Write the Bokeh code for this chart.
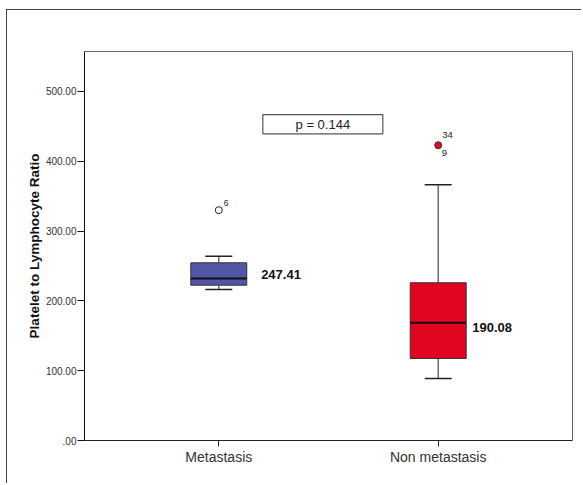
from bokeh.plotting import figure
from bokeh.models import FixedTicker, ColumnDataSource
from bokeh.embed import file_html
from bokeh.resources import INLINE
from bokeh.core.properties import value

# ---- data ----
groups = ["Metastasis", "Non metastasis"]
xpos = [0, 1]
q1 = [222.5, 117.5]
median = [232.0, 168.6]
q3 = [254.6, 226.0]
lower = [216.3, 88.8]
upper = [264.0, 366.3]
outlier_y = [330.0, 423.0]
mean_labels = ["247.41", "190.08"]
colors = ["#5355A5", "#E2051F"]
y_ticks = [0, 100, 200, 300, 400, 500]
y_tick_labels = [".00", "100.00", "200.00", "300.00", "400.00", "500.00"]
p_text = "p = 0.144"

# ---- layout helpers ----
BOX_W = 0.255
CAP_W = 0.123
FONT = "Liberation Sans"

p = figure(width=575, height=474, output_backend="svg", toolbar_location=None,
           x_range=(-0.612, 1.612), y_range=(0, 557.3),
           min_border_left=77, min_border_right=10, min_border_top=41, min_border_bottom=44,
           background_fill_color="white", border_fill_color="white")
p.styles = {"border-left": "1px solid #444", "border-top": "1px solid #444",
            "margin-left": "6px", "margin-top": "9px"}
p.grid.visible = False
p.outline_line_color = "#666"
p.outline_line_width = 1

src = ColumnDataSource(dict(
    x=xpos, q1=q1, q3=q3, med=median, lo=lower, up=upper, color=colors,
    xl=[x - BOX_W / 2 for x in xpos], xr=[x + BOX_W / 2 for x in xpos],
    cl=[x - CAP_W / 2 for x in xpos], cr=[x + CAP_W / 2 for x in xpos],
))

# whiskers
p.segment(x0="x", y0="q3", x1="x", y1="up", source=src, line_color="#555", line_width=1.3)
p.segment(x0="x", y0="lo", x1="x", y1="q1", source=src, line_color="#555", line_width=1.3)
p.segment(x0="cl", y0="up", x1="cr", y1="up", source=src, line_color="#222", line_width=1.5)
p.segment(x0="cl", y0="lo", x1="cr", y1="lo", source=src, line_color="#222", line_width=1.5)
# boxes
p.vbar(x="x", width=BOX_W, bottom="q1", top="q3", source=src,
       fill_color="color", line_color="#333", line_width=1)
p.segment(x0="xl", y0="med", x1="xr", y1="med", source=src, line_color="#111", line_width=2)

# outliers
p.scatter(x=[xpos[0]], y=[outlier_y[0]], size=7, fill_color="white", line_color="#222", line_width=1)
p.scatter(x=[xpos[1]], y=[outlier_y[1]], size=7, fill_color=colors[1], line_color="#333", line_width=1)

p.text(x=[xpos[0]], y=[outlier_y[0]], text=["6"], x_offset=5, y_offset=-7,
       text_font=value(FONT), text_font_size="8.5px", text_color="#222",
       text_baseline="middle", text_align="left")
p.text(x=[xpos[1], xpos[1]], y=[outlier_y[1], outlier_y[1]], text=["34", "9"],
       x_offset=[4, 3.5], y_offset=[-10, 8],
       text_font=value(FONT), text_font_size="9.5px", text_color="#222",
       text_baseline="middle", text_align="left")

# mean labels
mean_label_x = [0.193, 1.155]
mean_label_y = [237.8, 161.9]
p.text(x=mean_label_x, y=mean_label_y, text=mean_labels,
       text_font=value(FONT), text_font_size="13px", text_font_style="bold",
       text_color="#111", text_baseline="middle", text_align="left")

# p-value box
p.quad(left=[0.2007], right=[0.7476], bottom=[439.4], top=[467.0],
       fill_color="white", line_color="#555", line_width=1.2)
p.text(x=[(0.2007 + 0.7476) / 2], y=[(439.4 + 467.0) / 2], text=[p_text],
       text_font=value(FONT), text_font_size="13px", text_color="#222",
       text_baseline="middle", text_align="center")

# axes
p.yaxis.ticker = FixedTicker(ticks=y_ticks)
p.yaxis.major_label_overrides = {t: l for t, l in zip(y_ticks, y_tick_labels)}
p.yaxis.minor_tick_line_color = None
p.yaxis.major_tick_out = 7
p.yaxis.major_tick_in = 0
p.yaxis.major_label_standoff = 1
p.yaxis.major_label_text_font = FONT
p.yaxis.major_label_text_font_size = "10px"
p.yaxis.major_label_text_color = "#333"
p.yaxis.axis_line_color = "#111"
p.yaxis.major_tick_line_color = "#111"
p.yaxis.axis_label = "Platelet to Lymphocyte Ratio"
p.yaxis.axis_label_text_font = FONT
p.yaxis.axis_label_text_font_style = "bold"
p.yaxis.axis_label_text_font_size = "13.5px"
p.yaxis.axis_label_text_color = "#111"
p.yaxis.axis_label_standoff = 1

p.xaxis.ticker = FixedTicker(ticks=xpos)
p.xaxis.major_label_overrides = {x: g for x, g in zip(xpos, groups)}
p.xaxis.minor_tick_line_color = None
p.xaxis.major_tick_out = 6
p.xaxis.major_tick_in = 0
p.xaxis.major_label_standoff = 2
p.xaxis.major_label_text_font = FONT
p.xaxis.major_label_text_font_size = "14px"
p.xaxis.major_label_text_color = "#333"
p.xaxis.axis_line_color = "#222"
p.xaxis.major_tick_line_color = "#222"

open("out.html", "w").write(file_html(p, INLINE))
